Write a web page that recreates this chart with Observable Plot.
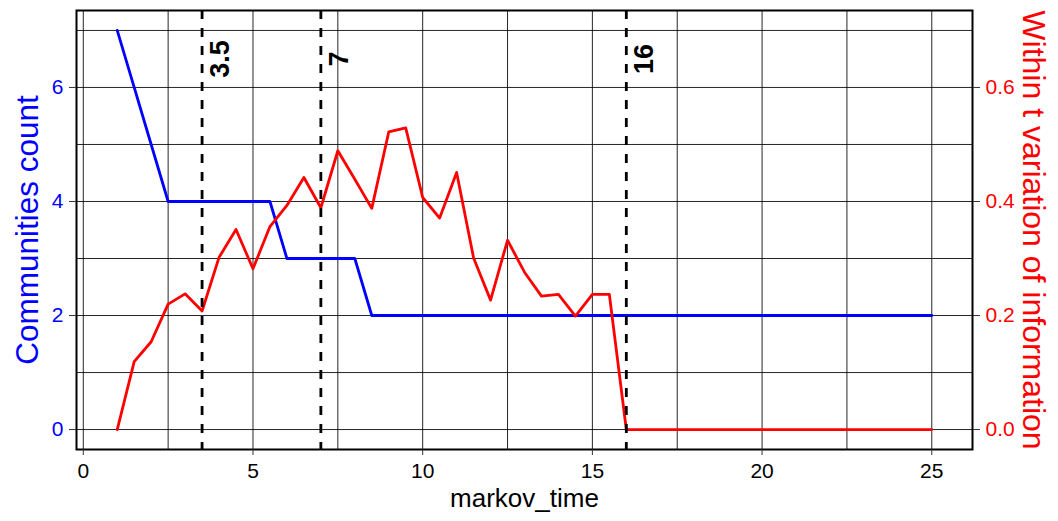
<!DOCTYPE html>
<html>
<head>
<meta charset="utf-8">
<script src="https://cdn.jsdelivr.net/npm/d3@7"></script>
<script src="https://cdn.jsdelivr.net/npm/@observablehq/plot@0.6"></script>
<style>
  html, body { margin: 0; padding: 0; background: #ffffff; }
  #chart { width: 1058px; height: 521px; }
</style>
</head>
<body>
<div id="chart"></div>
<script>
// ---- data ----
const markovTime = [1, 1.5, 2, 2.5, 3, 3.5, 4, 4.5, 5, 5.5, 6, 6.5, 7, 7.5, 8, 8.5, 9, 9.5, 10, 10.5,
  11, 11.5, 12, 12.5, 13, 13.5, 14, 14.5, 15, 15.5, 16, 16.5, 17, 17.5, 18, 18.5, 19, 19.5, 20, 20.5,
  21, 21.5, 22, 22.5, 23, 23.5, 24, 24.5, 25];
const communitiesCount = [7, 6, 5, 4, 4, 4, 4, 4, 4, 4, 3, 3, 3, 3, 3, 2, 2, 2, 2, 2,
  2, 2, 2, 2, 2, 2, 2, 2, 2, 2, 2, 2, 2, 2, 2, 2, 2, 2, 2, 2,
  2, 2, 2, 2, 2, 2, 2, 2, 2];
const withinVariation = [0, 0.119, 0.154, 0.220, 0.238, 0.208, 0.302, 0.351, 0.282, 0.356, 0.393, 0.442, 0.389, 0.489, 0.439, 0.388, 0.522, 0.529, 0.407, 0.371,
  0.451, 0.301, 0.227, 0.332, 0.276, 0.234, 0.237, 0.199, 0.237, 0.237, 0, 0, 0, 0, 0, 0, 0, 0, 0, 0,
  0, 0, 0, 0, 0, 0, 0, 0, 0];
const markerTimes = [3.5, 7, 16];
const markerLabels = ["3.5", "7", "16"];
const xTicks = [0, 5, 10, 15, 20, 25];
const xGrid = [0, 2.5, 5, 7.5, 10, 12.5, 15, 17.5, 20, 22.5, 25];
const leftTicks = [0, 2, 4, 6];
const yGrid = [0, 1, 2, 3, 4, 5, 6, 7];
const rightTicks = [0, 0.2, 0.4, 0.6];
const rightScale = 10; // secondary axis = primary / 10

const titles = { x: "markov_time", left: "Communities count", right: "Within t variation of information" };

// ---- tables ----
const blueData = markovTime.map((t, i) => ({t, v: communitiesCount[i]}));
const redData = markovTime.map((t, i) => ({t, v: withinVariation[i] * rightScale}));
const markers = markerTimes.map((t, i) => ({t, label: markerLabels[i]}));

const font = "'Liberation Sans', Arial, Helvetica, sans-serif";

const chart = Plot.plot({
  width: 1058,
  height: 521,
  marginLeft: 76,
  marginRight: 86,
  marginTop: 10,
  marginBottom: 72,
  style: { fontFamily: font, background: "#ffffff", overflow: "visible" },
  x: { domain: [-0.2, 26.2] },
  y: { domain: [-0.35, 7.35] },
  marks: [
    Plot.ruleX(xGrid, { stroke: "#000", strokeWidth: 1, strokeOpacity: 0.85 }),
    Plot.ruleY(yGrid, { stroke: "#000", strokeWidth: 1, strokeOpacity: 0.85 }),
    Plot.line(blueData, { x: "t", y: "v", stroke: "#0000ff", strokeWidth: 2.8 }),
    Plot.line(redData, { x: "t", y: "v", stroke: "#ff0000", strokeWidth: 2.8 }),
    Plot.ruleX(markers, { x: "t", stroke: "#000", strokeWidth: 2.8, strokeDasharray: "9,9" }),
    Plot.text(markers, { x: "t", y: 6.5, text: "label", rotate: -90, dx: 18, fontSize: 27, fontWeight: "bold", fill: "#000" }),
    Plot.frame({ stroke: "#000", strokeWidth: 2 }),
    Plot.axisX(xTicks, { anchor: "bottom", tickSize: 6, tickPadding: 8, fontSize: 21, stroke: "#333", fill: "#000", label: null, tickFormat: d => String(d) }),
    Plot.axisY(leftTicks, { anchor: "left", tickSize: 7, tickPadding: 6, fontSize: 21, stroke: "#333", fill: "#0000ff", label: null, tickFormat: d => String(d) }),
    Plot.axisY(rightTicks.map(v => v * rightScale), { anchor: "right", tickSize: 7, tickPadding: 6, fontSize: 21, stroke: "#333", fill: "#ff0000", label: null, tickFormat: d => (d / rightScale).toFixed(1) }),
    Plot.text([titles.x], { frameAnchor: "bottom", textAnchor: "middle", text: d => d, dy: 57, fontSize: 26, fill: "#000" }),
    Plot.text([titles.left], { frameAnchor: "left", textAnchor: "middle", text: d => d, rotate: -90, dx: -49, fontSize: 31.5, fill: "#0000ff" }),
    Plot.text([titles.right], { frameAnchor: "right", textAnchor: "middle", text: d => d, rotate: 90, dx: 61, fontSize: 32, fill: "#ff0000" })
  ]
});
document.getElementById("chart").appendChild(chart);
</script>
</body>
</html>
